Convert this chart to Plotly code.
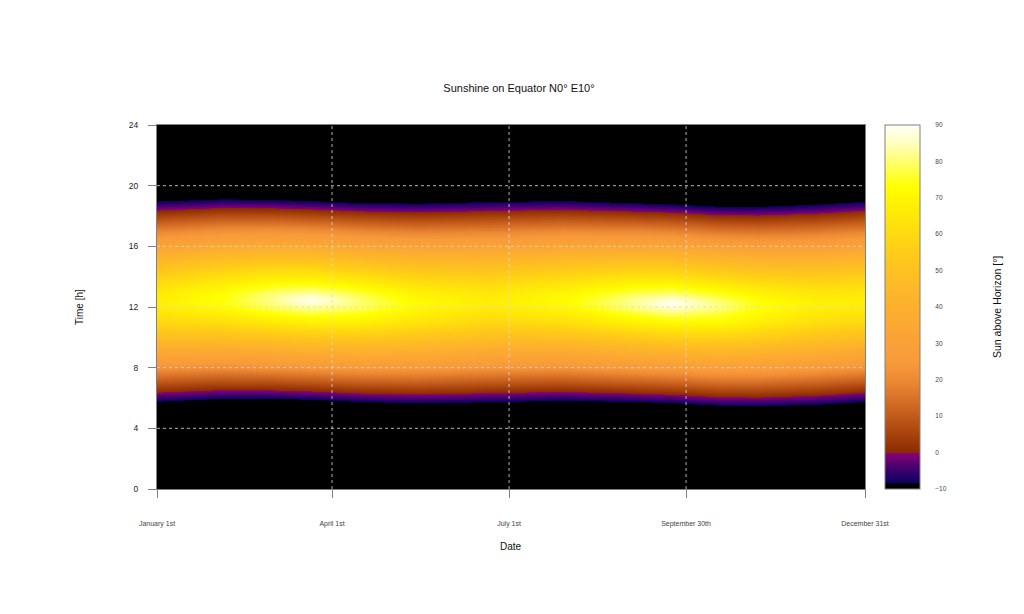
import plotly.graph_objects as go

# Sun elevation above horizon (degrees) on the equator, N0 E10
# one list per date (day of year), values at the hours below
hours = [5, 6, 7, 8, 9, 10, 11, 12, 12.25, 12.5, 13, 14, 15, 16, 17, 18, 19, 20]
days = [1, 35, 60, 80, 105, 135, 172, 210, 245, 266, 290, 310, 340, 365]

jan01 = [-19.1, -5.4, 8.4, 22.1, 35.5, 48.3, 59.3, 66.3, 66.9, 66.9, 65.3, 57.1, 45.5, 32.6, 19.1, 5.4, -8.4, -22.1]
feb04 = [-22.5, -8.1, 6.3, 20.6, 34.8, 48.7, 61.7, 71.7, 73.0, 73.7, 72.5, 63.2, 50.5, 36.7, 22.5, 8.1, -6.3, -20.6]
mar01 = [-22.9, -8.0, 6.8, 21.7, 36.5, 51.2, 65.7, 78.7, 81.0, 82.1, 79.5, 66.8, 52.4, 37.7, 22.9, 8.0, -6.8, -21.7]
mar21 = [-22.1, -7.1, 8.0, 23.0, 38.0, 53.0, 68.0, 83.0, 86.7, 89.6, 82.1, 67.1, 52.1, 37.1, 22.1, 7.1, -8.0, -23.0]
apr15 = [-19.7, -5.0, 9.8, 24.6, 39.3, 53.8, 67.8, 79.0, 80.1, 79.9, 76.0, 63.3, 49.0, 34.4, 19.7, 5.0, -9.8, -24.6]
may15 = [-18.0, -3.8, 10.4, 24.5, 38.3, 51.7, 63.5, 70.8, 71.2, 70.9, 68.3, 58.3, 45.6, 32.0, 18.0, 3.8, -10.4, -24.5]
jun21 = [-18.7, -5.0, 8.8, 22.5, 35.8, 48.4, 59.3, 66.0, 66.5, 66.5, 64.8, 56.5, 45.0, 32.1, 18.7, 5.0, -8.8, -22.5]
jul29 = [-20.4, -6.3, 8.0, 22.1, 36.1, 49.5, 61.8, 70.3, 71.2, 71.4, 69.6, 60.4, 48.0, 34.4, 20.4, 6.3, -8.0, -22.1]
sep02 = [-19.8, -4.9, 10.0, 24.8, 39.6, 54.3, 68.6, 80.7, 82.0, 81.7, 77.2, 63.8, 49.3, 34.6, 19.8, 4.9, -10.0, -24.8]
sep23 = [-18.8, -3.8, 11.3, 26.3, 41.3, 56.3, 71.3, 86.3, 90.0, 86.3, 78.8, 63.8, 48.8, 33.8, 18.8, 3.8, -11.3, -26.3]
oct17 = [-16.1, -1.3, 13.5, 28.2, 43.0, 57.5, 71.3, 80.7, 80.5, 78.9, 73.6, 60.0, 45.6, 30.9, 16.1, 1.3, -13.5, -28.2]
nov06 = [-15.3, -0.9, 13.5, 27.8, 41.9, 55.5, 67.4, 73.8, 73.6, 72.6, 68.7, 57.0, 43.6, 29.5, 15.3, 0.9, -13.5, -27.8]
dec06 = [-16.4, -2.6, 11.3, 25.0, 38.4, 51.0, 61.6, 67.4, 67.5, 67.1, 64.6, 55.2, 43.2, 30.0, 16.4, 2.6, -11.3, -25.0]
dec31 = [-19.0, -5.3, 8.6, 22.3, 35.6, 48.3, 59.4, 66.3, 66.8, 66.8, 65.2, 57.0, 45.4, 32.5, 19.0, 5.3, -8.6, -22.3]

profiles = [jan01, feb04, mar01, mar21, apr15, may15, jun21, jul29, sep02, sep23, oct17, nov06, dec06, dec31]

x_ticks = [1, 91, 182, 273, 365]
x_labels = ['January 1st', 'April 1st', 'July 1st', 'September 30th', 'December 31st']
y_ticks = [0, 4, 8, 12, 16, 20, 24]
bar_ticks = [-10, 0, 10, 20, 30, 40, 50, 60, 70, 80, 90]

# heatmap wants rows = hours
z = [list(r) for r in zip(*profiles)]

palette = [
    [0.0, '#000000'], [0.016, '#000000'], [0.0165, '#0c0064'], [0.06, '#46006e'],
    [0.0995, '#8c0078'], [0.1, '#8a2a00'], [0.15, '#a8420c'], [0.22, '#cc6420'],
    [0.30, '#ee8a34'], [0.35, '#f89a3a'], [0.45, '#fca833'], [0.55, '#fdb828'],
    [0.65, '#ffcc18'], [0.75, '#ffe808'], [0.83, '#ffff00'], [0.90, '#ffff70'],
    [0.95, '#ffffc0'], [1.0, '#fffff8'],
]

fnt = 'Liberation Sans, Arial, sans-serif'

fig = go.Figure(go.Heatmap(
    x=days, y=hours, z=z,
    zmin=-10, zmax=90, zsmooth='best',
    colorscale=palette,
    colorbar=dict(
        x=1.0282, xanchor='left', y=0.5, yanchor='middle',
        thickness=35, len=1.0, lenmode='fraction', xpad=0, ypad=0,
        outlinecolor='#808080', outlinewidth=1,
        tickvals=bar_ticks, ticks='outside', ticklen=14, tickcolor='rgba(0,0,0,0)',
        tickfont=dict(family=fnt, size=6.5, color='#444'),
    ),
))

# dotted grid drawn over the heatmap
for v in x_ticks[1:-1]:
    fig.add_vline(x=v, line=dict(color='rgba(220,220,220,0.8)', width=1, dash='dot'), layer='above')
for v in y_ticks[1:-1]:
    fig.add_hline(y=v, line=dict(color='rgba(220,220,220,0.8)', width=1, dash='dot'), layer='above')

# the page body adds 8px, margins are shifted back by that
fig.update_layout(
    width=1024, height=614,
    margin=dict(l=149, r=167, t=117, b=133),
    paper_bgcolor='white', plot_bgcolor='black',
    font=dict(family=fnt, color='#111'),
    title=dict(text='Sunshine on Equator N0° E10°', x=0.499, xanchor='center',
               y=1 - 80 / 614, yanchor='middle', yref='container',
               font=dict(size=11, color='#111')),
    showlegend=False,
)
fig.update_xaxes(
    range=[1, 365], tickvals=x_ticks, ticktext=x_labels,
    showgrid=False, zeroline=False, showline=True, mirror=True,
    linecolor='#808080', linewidth=1,
    ticks='outside', ticklen=8, tickcolor='#808080',
    tickfont=dict(size=7, color='#444'), ticklabelstandoff=20,
)
fig.update_yaxes(
    range=[0, 24], tickvals=y_ticks,
    showgrid=False, zeroline=False, showline=True, mirror=True,
    linecolor='#808080', linewidth=1,
    ticks='outside', ticklen=8, tickcolor='#808080',
    tickfont=dict(size=8.5, color='#222'), ticklabelstandoff=8,
)

fig.add_annotation(text='Date', xref='paper', yref='paper', x=0.5, y=(489 - 546) / 364,
                   xanchor='center', yanchor='middle',
                   showarrow=False, font=dict(size=10, color='#111'))
fig.add_annotation(text='Time [h]', xref='paper', yref='paper', x=(79 - 157) / 708, y=0.5,
                   xanchor='center', yanchor='middle',
                   textangle=-90, showarrow=False, font=dict(size=10, color='#111'))
fig.add_annotation(text='Sun above Horizon [°]', xref='paper', yref='paper', x=(997 - 157) / 708, y=0.5,
                   xanchor='center', yanchor='middle',
                   textangle=-90, showarrow=False, font=dict(size=10.5, color='#111'))

fig.write_html('out.html')
